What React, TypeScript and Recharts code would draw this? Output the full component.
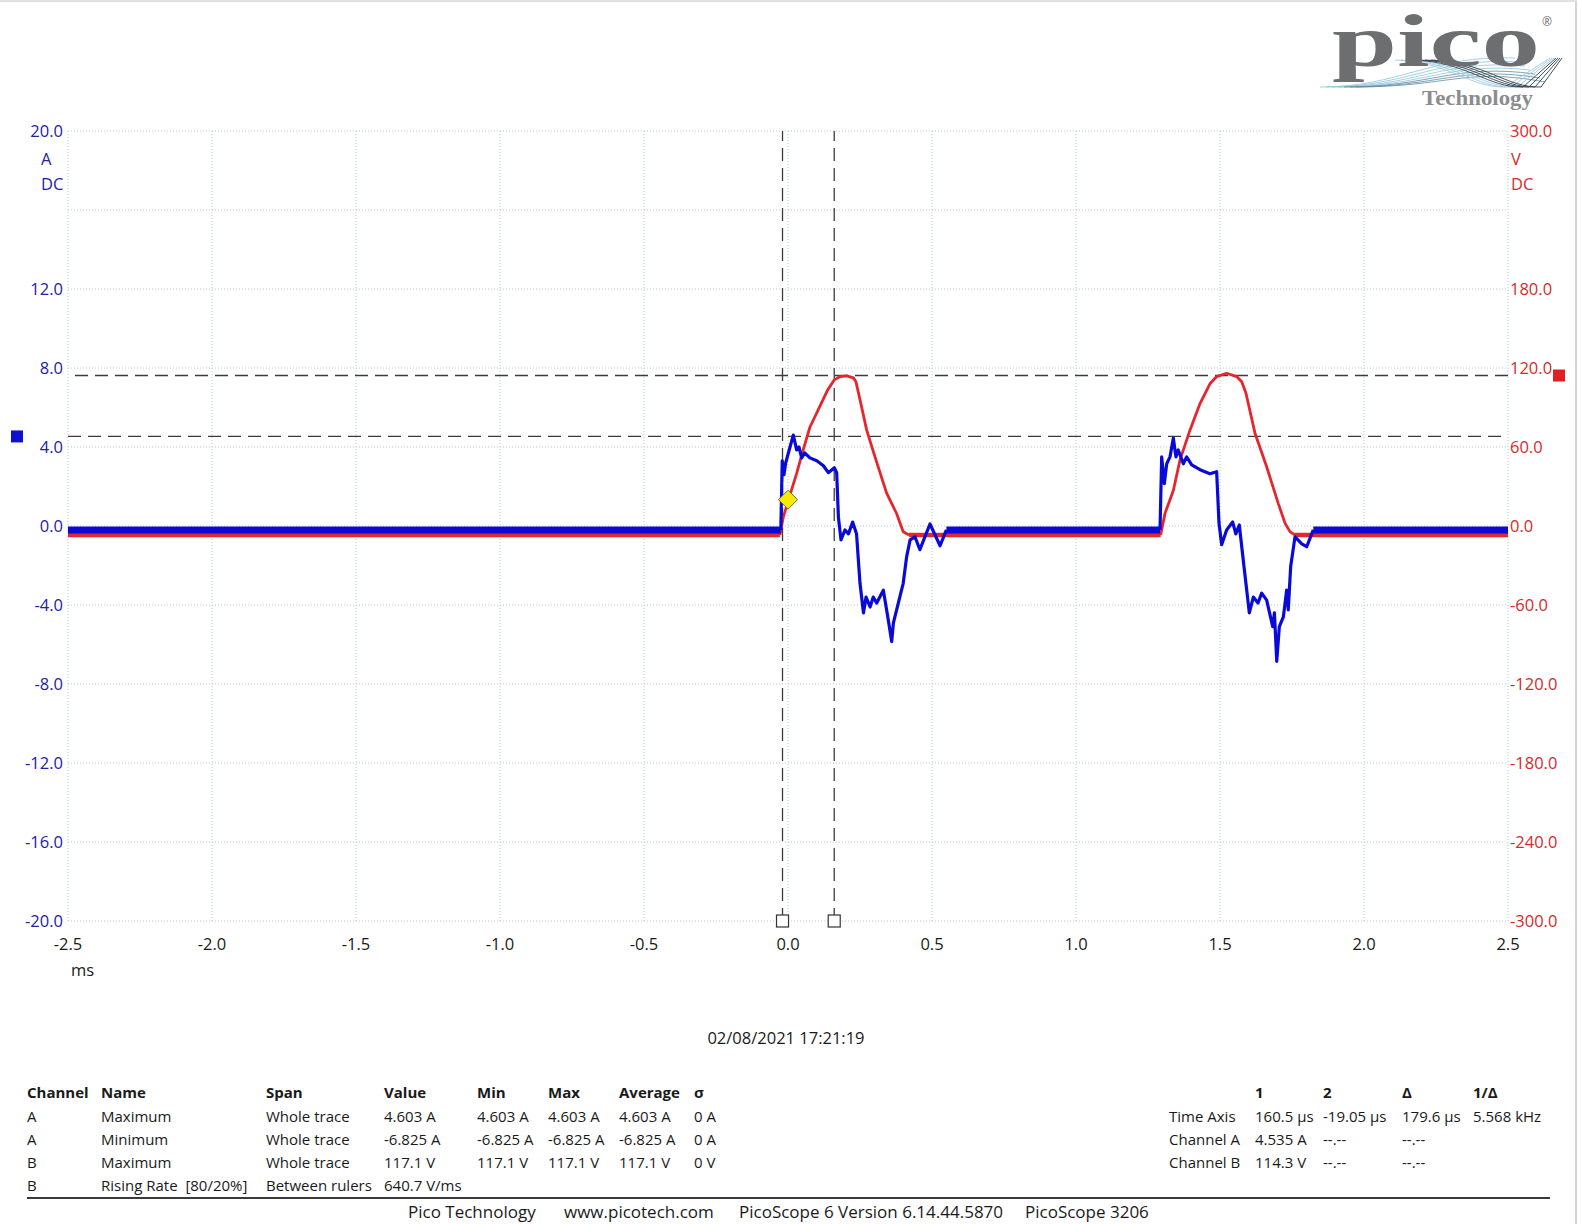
import React from "react";
import {
  LineChart,
  Line,
  XAxis,
  YAxis,
  CartesianGrid,
  ReferenceLine,
  ReferenceDot,
} from "recharts";

type Pair = [number, number];

// axes
const timeTicks = [-2.5, -2, -1.5, -1, -0.5, 0, 0.5, 1, 1.5, 2, 2.5];
const ampTicks = [-20, -16, -12, -8, -4, 0, 4, 8, 12, 16, 20];
const ampTickLabels = ["-20.0", "-16.0", "-12.0", "-8.0", "-4.0", "0.0", "4.0", "8.0", "12.0", "", "20.0"];
const voltTicks = [-300, -240, -180, -120, -60, 0, 60, 120, 180, 240, 300];
const voltTickLabels = ["-300.0", "-240.0", "-180.0", "-120.0", "-60.0", "0.0", "60.0", "120.0", "180.0", "", "300.0"];

// channel A (current, A) - [ms, A]
const chanABase1: Pair[] = [[-2.5, -0.2], [-0.025, -0.2]];
const chanAPulse1: Pair[] = [
  [-0.025, -0.2], [-0.02, 3.3], [-0.014, 2.6], [-0.008, 3.2], [0.007, 4.0], [0.0185, 4.6],
  [0.03, 3.85], [0.038, 4.0], [0.0475, 3.45], [0.058, 3.7], [0.076, 3.45], [0.1, 3.3],
  [0.123, 3.05], [0.14, 2.7], [0.161, 2.95], [0.169, 2.7], [0.175, 0.45], [0.184, -0.7],
  [0.198, -0.2], [0.21, -0.4], [0.2245, 0.2], [0.238, -0.4], [0.25, -2.9], [0.262, -4.4],
  [0.271, -3.6], [0.285, -4.1], [0.296, -3.6], [0.308, -3.9], [0.331, -3.25], [0.3425, -4.25],
  [0.352, -5.1], [0.36, -5.85], [0.366, -4.9], [0.383, -3.9], [0.4, -2.9], [0.412, -1.55],
  [0.424, -0.7], [0.441, -0.55], [0.458, -1.2], [0.493, 0.1], [0.528, -1.0], [0.55, -0.2],
];
const chanABase2: Pair[] = [[0.55, -0.2], [1.2917, -0.2]];
const chanAPulse2: Pair[] = [
  [1.2917, -0.2], [1.2975, 3.5], [1.3067, 2.15], [1.315, 3.15], [1.3264, 3.5], [1.338, 4.45],
  [1.347, 3.5], [1.355, 3.85], [1.3727, 3.15], [1.384, 3.5], [1.4017, 3.1], [1.4306, 2.85],
  [1.465, 2.65], [1.4884, 2.75], [1.4965, 0.15], [1.5058, -0.95], [1.523, -0.2], [1.544, 0.2],
  [1.555, -0.4], [1.567, 0.05], [1.5833, -2.05], [1.6018, -4.4], [1.6157, -3.6], [1.632, -3.9],
  [1.6447, -3.4], [1.662, -3.75], [1.683, -5.1], [1.689, -4.4], [1.697, -6.85], [1.706, -5.1],
  [1.72, -4.6], [1.7315, -3.25], [1.737, -4.25], [1.7454, -2.05], [1.7604, -0.55], [1.784, -0.9],
  [1.801, -1.05], [1.824, -0.2],
];
const chanABase3: Pair[] = [[1.824, -0.2], [2.5, -0.2]];

// channel B (voltage, V) - [ms, V]
const chanBBase1: Pair[] = [[-2.5, -6.8], [-0.028, -6.8]];
const chanBPulse1: Pair[] = [
  [-0.028, -6.8], [-0.016, 7], [0.0046, 22], [0.03, 40], [0.053, 58], [0.076, 75], [0.111, 91],
  [0.137, 103], [0.161, 111], [0.181, 113.5], [0.204, 114], [0.227, 112.5], [0.236, 109.5],
  [0.25, 96], [0.273, 73], [0.302, 52.5], [0.3425, 25], [0.377, 9.5], [0.4, -4.3], [0.42, -6.8],
];
const chanBBase2: Pair[] = [[0.42, -6.8], [1.294, -6.8]];
const chanBPulse2: Pair[] = [
  [1.294, -6.8], [1.309, 9.6], [1.338, 27], [1.361, 50], [1.396, 73], [1.4306, 93], [1.465, 108],
  [1.4884, 113.5], [1.523, 116], [1.558, 113.5], [1.5754, 109.5], [1.59, 101], [1.6215, 70.5],
  [1.662, 45], [1.7025, 17], [1.726, 2], [1.743, -4.3], [1.76, -6.8],
];
const chanBBase3: Pair[] = [[1.76, -6.8], [2.5, -6.8]];

// rulers and trigger
const timeRulers = [0.1605, -0.01905];
const chanARuler = 4.535;
const chanBRuler = 114.3;
const trigger: Pair = [0, 20];

// measurement tables
const measureHeader = ["Channel", "Name", "Span", "Value", "Min", "Max", "Average", "σ"];
const measureRows = [
  ["A", "Maximum", "Whole trace", "4.603 A", "4.603 A", "4.603 A", "4.603 A", "0 A"],
  ["A", "Minimum", "Whole trace", "-6.825 A", "-6.825 A", "-6.825 A", "-6.825 A", "0 A"],
  ["B", "Maximum", "Whole trace", "117.1 V", "117.1 V", "117.1 V", "117.1 V", "0 V"],
  ["B", "Rising Rate  [80/20%]", "Between rulers", "640.7 V/ms", "", "", "", ""],
];
const rulerHeader = ["", "1", "2", "Δ", "1/Δ"];
const rulerRows = [
  ["Time Axis", "160.5 µs", "-19.05 µs", "179.6 µs", "5.568 kHz"],
  ["Channel A", "4.535 A", "--.--", "--.--", ""],
  ["Channel B", "114.3 V", "--.--", "--.--", ""],
];
const footerItems = ["Pico Technology", "www.picotech.com", "PicoScope 6 Version 6.14.44.5870", "PicoScope 3206"];
const captureTime = "02/08/2021 17:21:19";

const toRows = (pairs: Pair[]) => pairs.map(([t, y]) => ({ t, y }));

const BLUE = "#0a0ad8";
const RED = "#e5262c";
const BLUE_TXT = "#1e22a8";
const RED_TXT = "#d62a2a";
const FONT = '"Open Sans", "Noto Sans", sans-serif';

const XTick = (props: any) => {
  const { x, y, payload } = props;
  return (
    <text x={x} y={y + 29} textAnchor="middle" fontSize={16.5} fill="#1a1a1a" fontFamily={FONT}>
      {payload.value.toFixed(1)}
    </text>
  );
};

const AmpTick = (props: any) => {
  const { x, y, payload } = props;
  const label = ampTickLabels[ampTicks.indexOf(payload.value)];
  return (
    <text x={x - 5} y={y} dy="0.35em" textAnchor="end" fontSize={16.5} fill={BLUE_TXT} fontFamily={FONT}>
      {label}
    </text>
  );
};

const VoltTick = (props: any) => {
  const { x, y, payload } = props;
  const label = voltTickLabels[voltTicks.indexOf(payload.value)];
  return (
    <text x={x + 2} y={y} dy="0.35em" textAnchor="start" fontSize={16.5} fill={RED_TXT} fontFamily={FONT}>
      {label}
    </text>
  );
};

const SideHandle = (props: any) => {
  const { viewBox, side, fill } = props;
  if (!viewBox) return null;
  const cx = side === "left" ? viewBox.x - 51 : viewBox.x + viewBox.width + 51;
  return <rect x={cx - 6} y={viewBox.y - 6} width={12} height={12} fill={fill} />;
};

const BottomHandle = (props: any) => {
  const { viewBox } = props;
  if (!viewBox) return null;
  return (
    <rect
      x={viewBox.x - 6}
      y={viewBox.y + viewBox.height - 6}
      width={12}
      height={12}
      fill="#fff"
      stroke="#333"
      strokeWidth={1.2}
    />
  );
};

const Diamond = (props: any) => {
  const { cx, cy } = props;
  const r = 9.5;
  return (
    <polygon
      points={`${cx},${cy - r} ${cx + r},${cy} ${cx},${cy + r} ${cx - r},${cy}`}
      fill="#f5ea00"
      stroke="#6b6b40"
      strokeWidth={1}
    />
  );
};

const Txt = ({ x, y, children, bold, color, size, anchor }: any) => (
  <div
    style={{
      position: "absolute",
      left: anchor === "middle" ? x - 300 : x,
      width: anchor === "middle" ? 600 : undefined,
      textAlign: anchor === "middle" ? "center" : "left",
      top: y - 12,
      lineHeight: "24px",
      fontSize: size ?? 15,
      fontWeight: bold ? 700 : 400,
      color: color ?? "#1a1a1a",
      whiteSpace: "pre",
    }}
  >
    {children}
  </div>
);

const PicoLogo = () => (
  <svg
    width={281}
    height={125}
    style={{ position: "absolute", left: 1300, top: 0 }}
  >
    {[0, 1, 2, 3, 4, 5, 6].map((i) => (
      <path
        key={`w${i}`}
        d={`M ${20 + i * 6} 87 C ${100 + i * 8} 87, ${130 + i * 6} ${55 + i * 2}, ${215 + i * 5} ${58 + i * 4}`}
        fill="none"
        stroke={i < 4 ? "#8cc4da" : "#5e8aa0"}
        strokeWidth={0.8}
      />
    ))}
    {[0, 1, 2, 3, 4, 5, 6].map((i) => (
      <path
        key={`d${i}`}
        d={`M ${95 + i * 6} 60 C ${150 + i * 6} 62, ${170 + i * 6} 88, ${205 + i * 6} 87 L ${250 + i * 2} 58`}
        fill="none"
        stroke={i < 3 ? "#9ccbe0" : "#2f3e4c"}
        strokeWidth={0.9}
      />
    ))}
    <text
      x={32}
      y={66}
      fontFamily='"Liberation Serif", "DejaVu Serif", serif'
      fontWeight={700}
      fontSize={74}
      fill="#6d6e70"
      textLength={208}
      lengthAdjust="spacingAndGlyphs"
    >
      pico
    </text>
    <text x={242} y={26} fontFamily={FONT} fontSize={12} fill="#6d6e70">
      ®
    </text>
    <text
      x={122}
      y={105}
      fontFamily='"Liberation Serif", "DejaVu Serif", serif'
      fontWeight={700}
      fontSize={21}
      fill="#8b8c8e"
      textLength={111}
      lengthAdjust="spacingAndGlyphs"
    >
      Technology
    </text>
  </svg>
);

const measureCols = [27, 101, 266, 384, 477, 548, 619, 694];
const rulerCols = [1169, 1255, 1323, 1402, 1473];
const rowYs = [1116, 1139, 1162, 1185];
const footerXs = [408, 564, 739, 1025];

export default function App() {
  const baseA = [chanABase1, chanABase2, chanABase3];
  const pulseA = [chanAPulse1, chanAPulse2];
  const baseB = [chanBBase1, chanBBase2, chanBBase3];
  const pulseB = [chanBPulse1, chanBPulse2];

  return (
    <div
      style={{
        position: "absolute",
        left: 0,
        top: 0,
        width: 1581,
        height: 1224,
        background: "#fff",
        fontFamily: FONT,
        overflow: "hidden",
      }}
    >
      <div style={{ position: "absolute", right: 4, top: 0, width: 2, height: 1224, background: "#d4d4d4" }} />
      <div style={{ position: "absolute", left: 0, top: 0, width: 1577, height: 2, background: "#e2e2e2" }} />
      <PicoLogo />

      <div style={{ position: "absolute", left: 0, top: 0 }}>
        <LineChart width={1581} height={1000} margin={{ top: 131, right: 0, bottom: 0, left: 0 }}>
          <CartesianGrid
            yAxisId="a"
            stroke="#aecbdc"
            strokeDasharray="1 2"
            strokeWidth={1}
          />
          <XAxis
            type="number"
            dataKey="t"
            domain={[-2.5, 2.5]}
            ticks={timeTicks}
            interval={0}
            axisLine={false}
            tickLine={false}
            tickSize={0}
            tickMargin={0}
            height={79}
            tick={<XTick />}
            allowDataOverflow
          />
          <YAxis
            yAxisId="a"
            orientation="left"
            type="number"
            domain={[-20, 20]}
            ticks={ampTicks}
            interval={0}
            axisLine={false}
            tickLine={false}
            tickSize={0}
            tickMargin={0}
            width={68}
            tick={<AmpTick />}
            allowDataOverflow
          />
          <YAxis
            yAxisId="v"
            orientation="right"
            type="number"
            domain={[-300, 300]}
            ticks={voltTicks}
            interval={0}
            axisLine={false}
            tickLine={false}
            tickSize={0}
            tickMargin={0}
            width={73}
            tick={<VoltTick />}
            allowDataOverflow
          />

          {timeRulers.map((t) => (
            <ReferenceLine
              key={`tr${t}`}
              yAxisId="a"
              x={t}
              stroke="#3c3c3c"
              strokeWidth={1.3}
              strokeDasharray="13 7"
              label={<BottomHandle />}
            />
          ))}
          <ReferenceLine
            yAxisId="a"
            y={chanARuler}
            stroke="#3c3c3c"
            strokeWidth={1.3}
            strokeDasharray="13 7"
            label={<SideHandle side="left" fill="#1010d0" />}
          />
          <ReferenceLine
            yAxisId="v"
            y={chanBRuler}
            stroke="#3c3c3c"
            strokeWidth={1.3}
            strokeDasharray="13 7"
            label={<SideHandle side="right" fill="#e01e24" />}
          />

          {baseB.map((seg, i) => (
            <Line
              key={`bb${i}`}
              yAxisId="v"
              data={toRows(seg)}
              dataKey="y"
              stroke={RED}
              strokeWidth={4.5}
              dot={false}
              activeDot={false}
              isAnimationActive={false}
              type="linear"
            />
          ))}
          {pulseB.map((seg, i) => (
            <Line
              key={`pb${i}`}
              yAxisId="v"
              data={toRows(seg)}
              dataKey="y"
              stroke={RED}
              strokeWidth={2.8}
              strokeLinejoin="round"
              dot={false}
              activeDot={false}
              isAnimationActive={false}
              type="linear"
            />
          ))}
          {baseA.map((seg, i) => (
            <Line
              key={`ba${i}`}
              yAxisId="a"
              data={toRows(seg)}
              dataKey="y"
              stroke={BLUE}
              strokeWidth={7}
              dot={false}
              activeDot={false}
              isAnimationActive={false}
              type="linear"
            />
          ))}
          {pulseA.map((seg, i) => (
            <Line
              key={`pa${i}`}
              yAxisId="a"
              data={toRows(seg)}
              dataKey="y"
              stroke={BLUE}
              strokeWidth={3.2}
              strokeLinejoin="round"
              dot={false}
              activeDot={false}
              isAnimationActive={false}
              type="linear"
            />
          ))}

          <ReferenceDot yAxisId="v" x={trigger[0]} y={trigger[1]} r={9} shape={<Diamond />} />
        </LineChart>
      </div>

      {/* axis units */}
      <Txt x={41} y={159} size={16.5} color={BLUE_TXT}>A</Txt>
      <Txt x={41} y={184} size={16.5} color={BLUE_TXT}>DC</Txt>
      <Txt x={1511} y={159} size={16.5} color={RED_TXT}>V</Txt>
      <Txt x={1511} y={184} size={16.5} color={RED_TXT}>DC</Txt>
      <Txt x={71} y={970} size={16.5}>ms</Txt>

      <Txt x={786} y={1038} size={16.5} anchor="middle">{captureTime}</Txt>

      {measureHeader.map((h, j) => (
        <Txt key={`mh${j}`} x={measureCols[j]} y={1092} bold>{h}</Txt>
      ))}
      {measureRows.map((row, i) =>
        row.map((c, j) => (
          <Txt key={`m${i}-${j}`} x={measureCols[j]} y={rowYs[i]}>{c}</Txt>
        ))
      )}

      {rulerHeader.map((h, j) => (
        <Txt key={`rh${j}`} x={rulerCols[j]} y={1092} bold>{h}</Txt>
      ))}
      {rulerRows.map((row, i) =>
        row.map((c, j) => (
          <Txt key={`r${i}-${j}`} x={rulerCols[j]} y={rowYs[i]}>{c}</Txt>
        ))
      )}

      <div style={{ position: "absolute", left: 27, top: 1197, width: 1523, height: 2, background: "#3a3a3a" }} />
      {footerItems.map((f, i) => (
        <Txt key={`f${i}`} x={footerXs[i]} y={1212} size={17}>{f}</Txt>
      ))}
    </div>
  );
}
